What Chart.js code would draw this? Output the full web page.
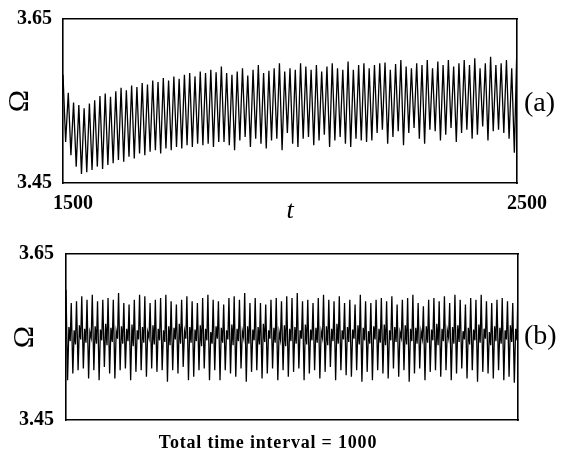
<!DOCTYPE html>
<html><head><meta charset="utf-8">
<script src="https://cdn.jsdelivr.net/npm/chart.js@4.4.1/dist/chart.umd.min.js"></script>
<style>
html,body{margin:0;padding:0;background:#fff;}
#wrap{position:relative;width:561px;height:459px;overflow:hidden;background:#fff;}
canvas{position:absolute;left:0;}
#c1{top:0;} #c2{top:230px;}
.lab{position:absolute;font-family:'Liberation Serif','DejaVu Serif',serif;color:#000;white-space:nowrap;line-height:1;}
</style></head><body>
<div id="wrap">
<canvas id="c1" width="561" height="230" style="width:561px;height:230px"></canvas>
<canvas id="c2" width="561" height="229" style="width:561px;height:229px"></canvas>
<div class="lab" style="left:524px;top:88px;font-size:28px;">(a)</div>
<div class="lab" style="left:524px;top:321px;font-size:28px;">(b)</div>
<div class="lab" style="left:268px;top:433px;font-size:18px;font-weight:bold;letter-spacing:0.8px;transform:translateX(-50%);">Total time interval = 1000</div>
</div>
<script>
// ---- data ----
const T_START = 1500, T_END = 2500;
const xTickValues = [1500, 2500];
const yTickValues = [3.45, 3.65];

// panel (a): successive maxima and minima of Omega
const topPeaks = [3.582, 3.560, 3.548, 3.545, 3.541, 3.547, 3.551, 3.556, 3.559, 3.555,
 3.562, 3.566, 3.563, 3.569, 3.567, 3.572, 3.570, 3.575, 3.573, 3.578,
 3.575, 3.580, 3.577, 3.582, 3.584, 3.580, 3.586, 3.584, 3.588, 3.585,
 3.592, 3.584, 3.582, 3.586, 3.590, 3.581, 3.588, 3.594, 3.584, 3.587,
 3.590, 3.596, 3.586, 3.590, 3.588, 3.596, 3.592, 3.588, 3.594, 3.586,
 3.592, 3.596, 3.590, 3.588, 3.598, 3.588, 3.594, 3.596,
 3.590, 3.594, 3.596, 3.597, 3.588, 3.595, 3.600, 3.592, 3.590, 3.596,
 3.594, 3.600, 3.590, 3.598, 3.594, 3.600, 3.592, 3.596, 3.600, 3.594,
 3.602, 3.590, 3.596, 3.604, 3.594, 3.596, 3.600, 3.590,
 3.622];
const topTroughs = [3.500, 3.484, 3.470, 3.461, 3.463, 3.466, 3.470, 3.467, 3.472, 3.474,
 3.478, 3.476, 3.482, 3.480, 3.486, 3.484, 3.488, 3.490, 3.486, 3.492,
 3.490, 3.494, 3.492, 3.496, 3.494, 3.498, 3.496, 3.498, 3.494, 3.500,
 3.500, 3.496, 3.490, 3.502, 3.506, 3.494, 3.504, 3.498, 3.492, 3.502,
 3.504, 3.490, 3.511, 3.498, 3.494, 3.504, 3.506, 3.496, 3.502, 3.509,
 3.494, 3.502, 3.506, 3.498, 3.494, 3.504, 3.502, 3.500,
 3.502, 3.511, 3.515, 3.498, 3.506, 3.513, 3.496, 3.511, 3.517, 3.504,
 3.498, 3.515, 3.513, 3.502, 3.509, 3.517, 3.500, 3.511, 3.515, 3.504,
 3.509, 3.519, 3.502, 3.513, 3.515, 3.511, 3.504, 3.487];

// panel (b): spikes up, spikes down, and the small wiggle in between
const botPeaks = [3.607,
 3.591, 3.593, 3.599, 3.595, 3.601, 3.593, 3.595, 3.597, 3.595, 3.603, 3.591, 3.589, 3.595, 3.601,
 3.599, 3.591, 3.595, 3.597, 3.601, 3.593, 3.589, 3.595, 3.599, 3.593, 3.591, 3.597, 3.601, 3.595,
 3.593, 3.589, 3.597, 3.599, 3.595, 3.603, 3.591, 3.597, 3.591, 3.589, 3.595, 3.597, 3.593, 3.599,
 3.597, 3.603, 3.593, 3.595, 3.591, 3.597, 3.601, 3.595, 3.593, 3.599, 3.591, 3.595, 3.589, 3.601, 3.593,
 3.591, 3.595, 3.597, 3.593, 3.599, 3.589, 3.595, 3.597, 3.601, 3.591, 3.587, 3.595, 3.597, 3.593,
 3.599, 3.591, 3.601, 3.595, 3.589, 3.597, 3.595, 3.601, 3.593, 3.591, 3.595, 3.597, 3.593, 3.591, 3.610];
const botTroughs = [3.498, 3.506, 3.510, 3.512, 3.500, 3.510, 3.498, 3.514, 3.506, 3.500,
 3.510, 3.512, 3.498, 3.508, 3.510, 3.502, 3.512, 3.508, 3.510, 3.496,
 3.510, 3.506, 3.514, 3.498, 3.502, 3.510, 3.512, 3.498, 3.510,
 3.498, 3.510, 3.506, 3.502, 3.512, 3.496, 3.508, 3.510, 3.500, 3.506,
 3.512, 3.498, 3.510, 3.502, 3.508, 3.512, 3.498, 3.506, 3.510, 3.500,
 3.508, 3.514, 3.498, 3.510, 3.504, 3.502, 3.510, 3.496,
 3.508, 3.498, 3.510, 3.506, 3.500, 3.512, 3.502, 3.510, 3.496, 3.506,
 3.512, 3.498, 3.508, 3.510, 3.502, 3.510, 3.498, 3.506, 3.512, 3.500,
 3.510, 3.496, 3.508, 3.506, 3.500, 3.510, 3.498, 3.502, 3.495];
const botMidHi = [3.562, 3.558, 3.564, 3.560, 3.556, 3.563, 3.559, 3.566, 3.561, 3.557,
 3.563, 3.560, 3.565, 3.558, 3.562, 3.556, 3.564, 3.560, 3.558, 3.563,
 3.561, 3.566, 3.557, 3.562, 3.559, 3.564, 3.560, 3.556, 3.563,
 3.561, 3.558, 3.565, 3.560, 3.557, 3.563, 3.559, 3.562, 3.566, 3.558,
 3.561, 3.556, 3.564, 3.560, 3.562, 3.558, 3.565, 3.559, 3.561, 3.557,
 3.563, 3.560, 3.566, 3.558, 3.562, 3.559, 3.564, 3.561,
 3.557, 3.563, 3.560, 3.565, 3.558, 3.562, 3.556, 3.564, 3.560, 3.561,
 3.557, 3.563, 3.559, 3.566, 3.560, 3.558, 3.562, 3.564, 3.557, 3.561,
 3.559, 3.565, 3.560, 3.556, 3.563, 3.561, 3.558, 3.564, 3.560];
const botMidLo = [3.545, 3.541, 3.547, 3.543, 3.549, 3.542, 3.546, 3.540, 3.544, 3.548,
 3.542, 3.545, 3.539, 3.547, 3.543, 3.549, 3.541, 3.546, 3.544, 3.540,
 3.547, 3.542, 3.548, 3.543, 3.545, 3.539, 3.546, 3.542, 3.548,
 3.543, 3.547, 3.540, 3.545, 3.549, 3.542, 3.546, 3.541, 3.544, 3.548,
 3.543, 3.547, 3.539, 3.545, 3.542, 3.548, 3.541, 3.546, 3.543, 3.549,
 3.540, 3.545, 3.542, 3.547, 3.544, 3.548, 3.541, 3.546,
 3.542, 3.547, 3.543, 3.540, 3.546, 3.544, 3.549, 3.541, 3.545, 3.542,
 3.548, 3.543, 3.546, 3.540, 3.545, 3.549, 3.542, 3.544, 3.547, 3.541,
 3.546, 3.543, 3.548, 3.540, 3.545, 3.542, 3.547, 3.544, 3.546];

// ---- build point tables (sample times on an even grid) ----
function buildTop() {
  const n = topTroughs.length, P = (T_END - T_START) / n, pts = [];
  for (let i = 0; i < n; i++) {
    pts.push({x: T_START + i * P, y: topPeaks[i]});
    pts.push({x: T_START + (i + 0.5) * P, y: topTroughs[i]});
  }
  if (topPeaks[n] !== undefined) pts.push({x: T_END, y: topPeaks[n]});
  return pts;
}
function buildBottom() {
  const n = botTroughs.length, P = (T_END - T_START) / n, pts = [];
  for (let i = 0; i < n; i++) {
    const t0 = T_START + i * P;
    pts.push({x: t0, y: botPeaks[i]});
    pts.push({x: t0 + 0.3 * P, y: botTroughs[i]});
    pts.push({x: t0 + 0.55 * P, y: botMidHi[i]});
    pts.push({x: t0 + 0.8 * P, y: botMidLo[i]});
  }
  if (botPeaks[n] !== undefined) pts.push({x: T_END, y: botPeaks[n]});
  return pts;
}

const serif = "'Liberation Serif','DejaVu Serif',serif";
const BORDER = {display: true, color: '#000', width: 1.6};
const fixW = w => s => { s.width = w; s.paddingTop = 0; s.paddingBottom = 0; };
const fixH = h => s => { s.height = h; s.paddingLeft = 0; s.paddingRight = 0; };

function makePanel(id, points, c) {
  return new Chart(document.getElementById(id), {
    type: 'line',
    data: {datasets: [{data: points, borderColor: '#000', borderWidth: 1.3, pointRadius: 0, tension: 0, fill: false}]},
    options: {
      responsive: false, animation: false, devicePixelRatio: 1,
      layout: {padding: {top: c.top, right: c.right, left: 0, bottom: 0}},
      plugins: {legend: {display: false}, tooltip: {enabled: false}},
      scales: {
        x: {type: 'linear', position: 'bottom', min: T_START, max: T_END,
            afterBuildTicks: s => { s.ticks = xTickValues.map(v => ({value: v})); },
            afterFit: fixH(c.xh),
            grid: {display: false, drawTicks: false}, border: BORDER,
            ticks: {display: c.xTicks, autoSkip: false, maxRotation: 0, padding: 9, labelOffset: 10,
                    color: '#000', font: {family: serif, size: 20, weight: 'bold'}, callback: v => String(v)},
            title: c.xTitle},
        x2: {type: 'linear', position: 'top', min: T_START, max: T_END, afterFit: fixH(0),
             grid: {display: false, drawTicks: false}, ticks: {display: false}, border: BORDER},
        y: {type: 'linear', position: 'left', min: 3.45, max: 3.65,
            afterBuildTicks: s => { s.ticks = yTickValues.map(v => ({value: v})); },
            afterFit: fixW(c.yw),
            grid: {display: false, drawTicks: false}, border: BORDER,
            ticks: {padding: c.ypad, color: '#000', font: {family: serif, size: 20, weight: 'bold'}, callback: v => v.toFixed(2)},
            title: {display: true, text: 'Ω', color: '#000', font: {family: serif, size: 30}, padding: {top: c.omegaPad, bottom: 0}}},
        y2: {type: 'linear', position: 'right', min: 3.45, max: 3.65, afterFit: fixW(0),
             grid: {display: false, drawTicks: false}, ticks: {display: false}, border: BORDER}
      }
    }
  });
}

makePanel('c1', buildTop(), {top: 19, right: 44, xh: 47, yw: 63, ypad: 11, omegaPad: 2, xTicks: true,
  xTitle: {display: true, text: 't', color: '#000', font: {family: serif, size: 26, style: 'italic'}, padding: {top: 0, bottom: 3}}});
makePanel('c2', buildBottom(), {top: 24, right: 43, xh: 39, yw: 66, ypad: 12, omegaPad: 7, xTicks: false,
  xTitle: {display: false}});
</script>
</body></html>
